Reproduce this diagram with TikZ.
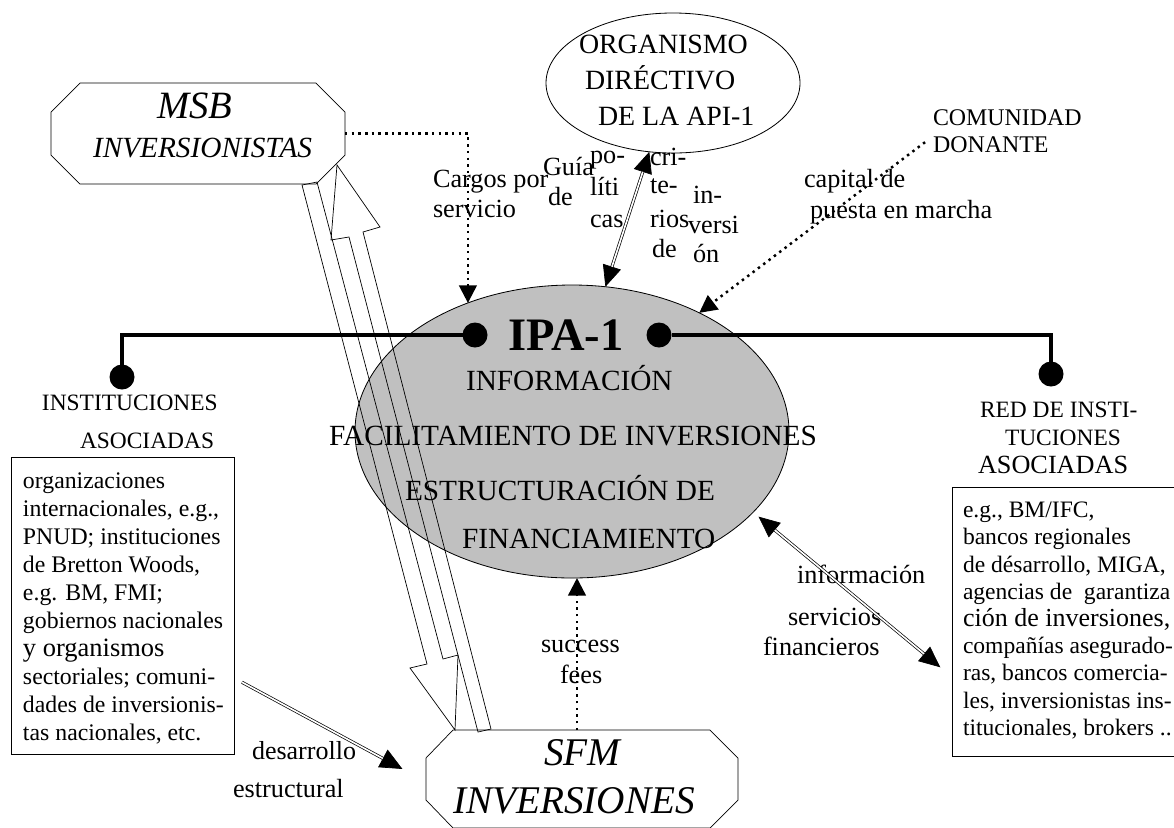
\documentclass[tikz,border=0pt]{standalone}
\usepackage{fontspec}
\setmainfont{Liberation Serif}
\usetikzlibrary{arrows.meta,shapes.geometric}
\definecolor{hubfill}{HTML}{C0C0C0}
\newcommand{\fsz}[1]{\fontsize{#1pt}{#1pt}\selectfont}
\tikzset{bighead/.tip={Triangle[length=18pt,width=16pt]}}

\begin{document}
\begin{tikzpicture}[x=0.03cm,y=-0.03cm,
  txt/.style={anchor=base west, inner sep=0pt, outer sep=0pt},
  edge/.style={line width=0.6pt},
  dotcon/.style={line width=2.1pt, dash pattern=on 2.1pt off 3.6pt},
  dotarrow/.style={dotcon, -{Triangle[length=15pt,width=15pt]}},
  % double connectors: a solid pass carries the tips, a double pass draws the shaft
  tipline/.style={line width=0.6pt},
  dblcon/.style={double, line width=0.6pt, double distance=1.4pt},
  bar/.style={line width=3.4pt},
  blob/.style={circle, fill=black, inner sep=0pt, outer sep=0pt, minimum size=0.75cm},
  frame/.style={draw, line width=0.7pt, inner sep=0pt, outer sep=0pt},
  ghost/.style={inner sep=0pt, outer sep=0pt},
]
\path[use as bounding box] (0,0) rectangle (1174,827);
\clip (0,0) rectangle (1174,827);
\fill[white] (0,0) rectangle (1174,827);

% central hub
\node[ellipse, draw, fill=hubfill, line width=0.7pt, inner sep=0pt, outer sep=0pt,
      minimum width=13.02cm, minimum height=8.79cm] (ipa) at (572,431.5) {};

% governing body
\node[ellipse, draw, line width=0.7pt, inner sep=0pt, outer sep=0pt,
      minimum width=7.62cm, minimum height=4.2cm] (dir) at (673,83) {};

% partner boxes
\node[frame, minimum width=6.69cm, minimum height=8.91cm] (lbox) at (122.5,605.5) {};
\node[frame, minimum width=7.14cm, minimum height=8.07cm] (rbox) at (1071,621.5) {};

% octagonal investor boxes
\node[ghost, minimum width=8.82cm, minimum height=3.03cm] (msb) at (198,133.5) {};
\draw[edge] (80,83) -- (316,83) -- (345,112) -- (345,155) -- (316,184) -- (80,184) -- (51,155) -- (51,112) -- cycle;
\node[ghost, minimum width=9.36cm, minimum height=2.94cm] (sfm) at (577,779) {};
\draw[edge] (453,730) -- (710,730) -- (738,758) -- (738,800) -- (710,828) -- (453,828) -- (426,800) -- (426,758) -- cycle;

% hollow block arrows between MSB and SFM
\draw[edge] (302,185) -- (427,664) -- (410,668) -- (455,730) -- (458,655) -- (443,659) -- (317,182) -- cycle;
\draw[edge] (478,732) -- (349,237) -- (331,240) -- (337,165) -- (380,227) -- (363,232) -- (491,729) -- cycle;

% partner bar with end dots
\node[blob] (dL) at (475,335) {};
\node[blob] (dR) at (659,335) {};
\node[blob] (dA) at (122,377) {};
\node[blob] (dB) at (1051,374) {};
\draw[bar] (dL) -| (dA);
\draw[bar] (dR) -| (dB);

% texts of the hub
\node[txt, font=\fsz{39.7}\bfseries] (ipaT) at (508,350) {IPA-1};
\node[txt, font=\fsz{25}] (ipa1) at (466,390) {INFORMACIÓN};
\node[txt, font=\fsz{25}] (ipa2) at (329,445) {FACILITAMIENTO DE INVERSIONES};
\node[txt, font=\fsz{25}] (ipa3) at (405,500) {ESTRUCTURACIÓN DE};
\node[txt, font=\fsz{25}] (ipa4) at (462,548) {FINANCIAMIENTO};

% governing body text
\node[txt, font=\fsz{23.8}] (dirA) at (579,53) {ORGANISMO};
\node[txt, font=\fsz{23.8}] (dirB) at (585,89) {DIRÉCTIVO};
\node[txt, font=\fsz{23.8}] (dirC) at (598,125) {DE LA API-1};

% investor box texts
\node[txt, font=\fsz{33}\itshape] (msbA) at (157,118) {MSB};
\node[txt, font=\fsz{25}\itshape] (msbB) at (93,157) {INVERSIONISTAS};
\node[txt, font=\fsz{33.5}\itshape] (sfmA) at (544,765) {SFM};
\node[txt, font=\fsz{33.5}\itshape] (sfmB) at (453,813) {INVERSIONES};

% partner headings
\node[txt, font=\fsz{20}] (lab1) at (42,410) {INSTITUCIONES};
\node[txt, font=\fsz{20}] (lab2) at (80,448) {ASOCIADAS};
\node[txt, font=\fsz{20}] (rab1) at (980,417) {RED DE INSTI-};
\node[txt, font=\fsz{20}] (rab2) at (1005,445) {TUCIONES};
\node[txt, font=\fsz{22.4}] (rab3) at (978,473) {ASOCIADAS};

% left box contents
\node[txt, font=\fsz{20.3}] (lt1) at (23,488) {organizaciones};
\node[txt, font=\fsz{20.3}] (lt2) at (23,516) {internacionales, e.g.,};
\node[txt, font=\fsz{20.3}] (lt3) at (23,544) {PNUD; instituciones};
\node[txt, font=\fsz{20.3}] (lt4) at (23,572) {de Bretton Woods,};
\node[txt, font=\fsz{20.3}] (lt5) at (23,600) {e.g. BM, FMI;};
\node[txt, font=\fsz{20.3}] (lt6) at (23,628) {gobiernos nacionales};
\node[txt, font=\fsz{22.6}] (lt7) at (23,656) {y organismos};
\node[txt, font=\fsz{20.3}] (lt8) at (23,684) {sectoriales; comuni-};
\node[txt, font=\fsz{20.3}] (lt9) at (23,712) {dades de inversionis-};
\node[txt, font=\fsz{20.3}] (lt10) at (23,740) {tas nacionales, etc.};

% right box contents
\node[txt, font=\fsz{20.1}] (rt1) at (963,517) {e.g., BM/IFC,};
\node[txt, font=\fsz{20.1}] (rt2) at (963,544) {bancos regionales};
\node[txt, font=\fsz{20.1}] (rt3) at (963,572) {de désarrollo, MIGA,};
\node[txt, font=\fsz{20.1}] (rt4) at (963,599) {agencias de~ garantiza};
\node[txt, font=\fsz{22.2}] (rt5) at (963,626) {ción de inversiones,};
\node[txt, font=\fsz{20.1}] (rt6) at (963,653) {compañías asegurado-};
\node[txt, font=\fsz{20.1}] (rt7) at (963,680) {ras, bancos comercia-};
\node[txt, font=\fsz{20.1}] (rt8) at (963,708) {les, inversionistas ins-};
\node[txt, font=\fsz{20.1}] (rt9) at (963,735) {titucionales, brokers ..};

% donor label
\node[txt, font=\fsz{20.4}] (cd1) at (933,125) {COMUNIDAD};
\node[txt, font=\fsz{20.4}] (cd2) at (933,152) {DONANTE};

% connector labels
\node[txt, font=\fsz{22.4}] (cap1) at (804,187) {capital de};
\node[txt, font=\fsz{22.4}] (cap2) at (810,218) {puesta en marcha};
\node[txt, font=\fsz{22.4}] (cg1) at (433,187) {Cargos por};
\node[txt, font=\fsz{22.4}] (cg2) at (433,217) {servicio};
\node[txt, font=\fsz{22.4}] (gu1) at (543,175) {Guía};
\node[txt, font=\fsz{22.4}] (gu2) at (548,205) {de};
\node[txt, font=\fsz{22.4}] (po1) at (590,163) {po-};
\node[txt, font=\fsz{22.4}] (po2) at (590,195) {líti};
\node[txt, font=\fsz{22.4}] (po3) at (590,227) {cas};
\node[txt, font=\fsz{22.4}] (cr1) at (650,165) {cri-};
\node[txt, font=\fsz{22.4}] (cr2) at (650,193) {te-};
\node[txt, font=\fsz{22.4}] (cr3) at (650,227) {rios};
\node[txt, font=\fsz{22.4}] (cr4) at (652,257) {de};
\node[txt, font=\fsz{22.4}] (in1) at (693,203) {in-};
\node[txt, font=\fsz{22.4}] (in2) at (688,233) {versi};
\node[txt, font=\fsz{22.4}] (in3) at (693,262) {ón};
\node[txt, font=\fsz{22.4}] (if1) at (797,583) {información};
\node[txt, font=\fsz{22.4}] (if2) at (788,625) {servicios};
\node[txt, font=\fsz{22.4}] (if3) at (763,655) {financieros};
\node[txt, font=\fsz{22.4}] (sc1) at (541,652) {success};
\node[txt, font=\fsz{22.4}] (sc2) at (560,683) {fees};
\node[txt, font=\fsz{22.2}] (ds1) at (252,759) {desarrollo};
\node[txt, font=\fsz{22.4}] (ds2) at (233,797) {estructural};

% dotted flows
\draw[dotarrow] (msb.east) -| (ipa.129.7);
\draw[dotarrow, shorten <=8.5pt] (cd2.north west) -- (ipa.43.8);
\draw[dotarrow] (sfm.north) -- (sfm.north |- ipa.south);

% guidance between governing body and hub
\draw[tipline, bighead-bighead] (dir.251.8) -- (ipa.77.9);
\draw[dblcon, shorten <=18pt, shorten >=18pt] (dir.251.8) -- (ipa.77.9);

% information and financial services
\draw[tipline, bighead-bighead, shorten <=6pt, shorten >=13pt] (ipa.-24) -- (rbox.205.4);
\draw[dblcon, shorten <=24pt, shorten >=31pt] (ipa.-24) -- (rbox.205.4);

% structural development
\draw[tipline, -{Triangle[length=19pt,width=17pt]}, shorten <=7.7pt, shorten >=18pt] (lbox.-33) -- (sfm.west);
\draw[dblcon, shorten <=7.7pt, shorten >=37pt] (lbox.-33) -- (sfm.west);
\end{tikzpicture}
\end{document}
